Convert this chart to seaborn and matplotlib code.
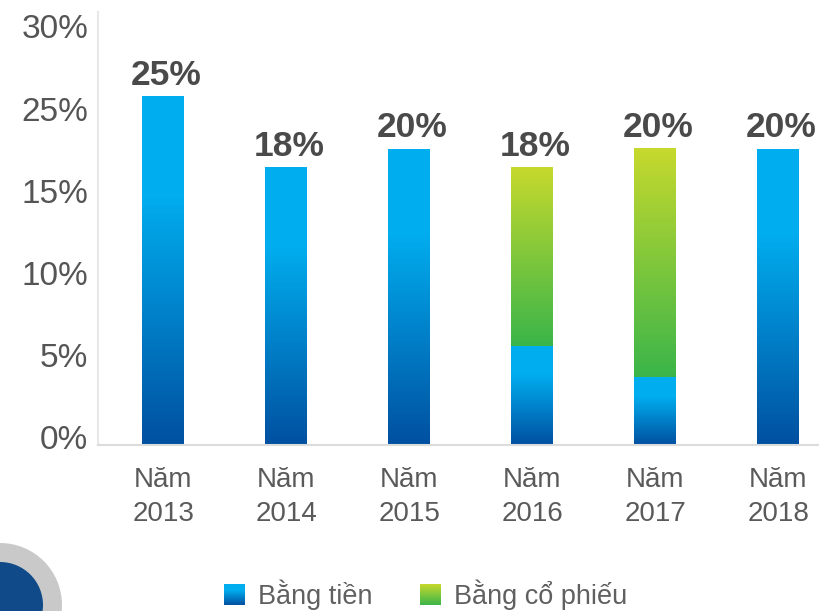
import numpy as np
import pandas as pd
import matplotlib
matplotlib.use("Agg")
import matplotlib.pyplot as plt
import seaborn as sns
from matplotlib.colors import LinearSegmentedColormap
from matplotlib.legend_handler import HandlerBase
from matplotlib.image import BboxImage
from matplotlib.transforms import Bbox, TransformedBbox, ScaledTranslation
from matplotlib.patches import Circle, Patch

# ---- data ----
years = ["Năm\n2013", "Năm\n2014", "Năm\n2015", "Năm\n2016", "Năm\n2017", "Năm\n2018"]
cash = [21.2, 16.9, 18.0, 6.0, 4.1, 18.0]
stock = [0.0, 0.0, 0.0, 10.85, 13.95, 0.0]
value_labels = ["25%", "18%", "20%", "18%", "20%", "20%"]
ytick_values = [0, 5, 10, 15, 20, 25]
ytick_labels = ["0%", "5%", "10%", "15%", "25%", "30%"]
legend_labels = ["Bằng tiền", "Bằng cổ phiếu"]

sns.set_theme(style="white")
plt.rcParams["font.family"] = ["Liberation Sans", "DejaVu Sans"]

blue_cmap = LinearSegmentedColormap.from_list(
    "blue", [(0.0, "#0050A0"), (0.72, "#00AEEF"), (1.0, "#00AEEF")])
green_cmap = LinearSegmentedColormap.from_list(
    "green", [(0.0, "#3AB54A"), (1.0, "#C6D92D")])
grad = np.linspace(0, 1, 256).reshape(-1, 1)

fig = plt.figure(figsize=(8.2, 6.11), dpi=100)
ax = fig.add_axes([0.1195, 0.2717, 0.8805, 0.7087])

df = pd.DataFrame({"year": years, "cash": cash, "stock": stock})
df["total"] = df["cash"] + df["stock"]

sns.barplot(data=df, x="year", y="total", ax=ax, width=0.34, color="#8DC63F",
            saturation=1, errorbar=None)
n = len(ax.patches)
sns.barplot(data=df, x="year", y="cash", ax=ax, width=0.34, color="#00AEEF",
            saturation=1, errorbar=None)
tot_patches = ax.patches[:n]
cash_patches = ax.patches[n:]

for p, c, s in zip(tot_patches, df["cash"], df["stock"]):
    x0, w = p.get_x(), p.get_width()
    p.set_facecolor("none")
    p.set_edgecolor("none")
    if s > 0:
        ax.imshow(grad, extent=[x0, x0 + w, c, c + s], origin="lower",
                  aspect="auto", cmap=green_cmap, zorder=2, interpolation="bilinear")

for p, c in zip(cash_patches, df["cash"]):
    x0, w = p.get_x(), p.get_width()
    p.set_facecolor("none")
    p.set_edgecolor("none")
    ax.imshow(grad, extent=[x0, x0 + w, 0, c], origin="lower",
              aspect="auto", cmap=blue_cmap, zorder=2, interpolation="bilinear")

for p, tot, lbl in zip(tot_patches, df["total"], value_labels):
    ax.annotate(lbl, (p.get_x() + p.get_width() / 2, tot), xytext=(2, 8.6),
                textcoords="offset points", ha="center", va="baseline",
                fontsize=25.5, fontweight="bold", color="#4a4a4a")

ax.set_xlim(-0.53, 5.34)
ax.set_ylim(0, 26.37)
ax.set_yticks(ytick_values)
ax.set_yticklabels(ytick_labels)
ax.set_xlabel("")
ax.set_ylabel("")
ax.tick_params(axis="y", length=0, pad=7, labelsize=24, labelcolor="#555555")
ax.tick_params(axis="x", length=0, pad=16, labelsize=20, labelcolor="#5a5a5a")
for lab in ax.get_xticklabels():
    lab.set_linespacing(1.4)
for lab in ax.get_yticklabels():
    lab.set_transform(lab.get_transform() + ScaledTranslation(0, 0.08, fig.dpi_scale_trans))

for side in ["top", "right"]:
    ax.spines[side].set_visible(False)
ax.spines["left"].set_color("#e8e8e8")
ax.spines["left"].set_linewidth(1.5)
ax.spines["bottom"].set_color("#dcdcdc")
ax.spines["bottom"].set_linewidth(1.5)
ax.grid(False)


class GradientHandler(HandlerBase):
    def __init__(self, cmap):
        super().__init__()
        self.cmap = cmap

    def create_artists(self, legend, orig_handle, xdescent, ydescent,
                       width, height, fontsize, trans):
        bb = Bbox.from_bounds(-xdescent, -ydescent, height, height)
        img = BboxImage(TransformedBbox(bb, trans), cmap=self.cmap,
                        interpolation="bilinear", origin="lower")
        img.set_data(grad)
        return [img]


h1 = Patch(color="#00AEEF")
h2 = Patch(color="#8DC63F")
fig.legend([h1, h2], legend_labels, loc="center", bbox_to_anchor=(0.519, 0.026),
           ncol=2, frameon=False, fontsize=19.5, handlelength=0.8, handleheight=0.8,
           handletextpad=0.45, columnspacing=1.78, labelcolor="#606060",
           handler_map={h1: GradientHandler(blue_cmap), h2: GradientHandler(green_cmap)})

# decorative circles at bottom-left
fig.add_artist(Circle((0.0, 0.06), 0.62, transform=fig.dpi_scale_trans,
                      facecolor="#C9C9C9", edgecolor="none", zorder=0))
fig.add_artist(Circle((0.0, 0.06), 0.43, transform=fig.dpi_scale_trans,
                      facecolor="#104A88", edgecolor="none", zorder=0))

fig.savefig("out.png", dpi=100)
